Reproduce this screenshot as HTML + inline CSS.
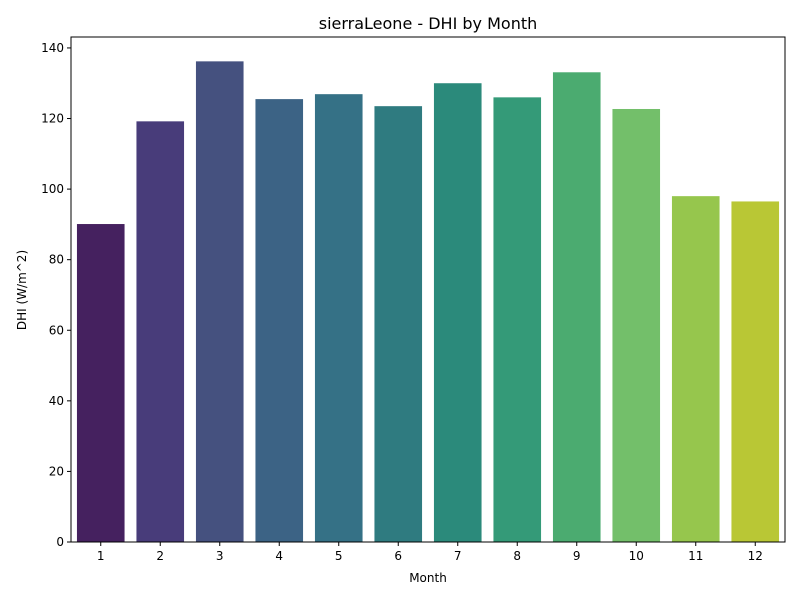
<!DOCTYPE html>
<html><head><meta charset="utf-8"><style>
body{margin:0;background:#fff;font-family:"Liberation Sans","DejaVu Sans",sans-serif;}
svg text{font-family:"DejaVu Sans","Liberation Sans",sans-serif;}
</style></head><body>
<svg id="chart" width="800" height="600">
<rect width="800" height="600" fill="#fff"/>
<text x="428" y="29" font-size="16" text-anchor="middle">sierraLeone - DHI by Month</text>
<g id="bars"></g>
<g id="axes"></g>
<text x="428" y="582" font-size="12" text-anchor="middle">Month</text>
<text transform="translate(26,290) rotate(-90)" font-size="12" text-anchor="middle">DHI (W/m^2)</text>
</svg>
<script>
const categories = ['1','2','3','4','5','6','7','8','9','10','11','12'];
const values = [90.1, 119.2, 136.2, 125.5, 126.9, 123.5, 130.0, 126.0, 133.1, 122.7, 98.0, 96.5];
const colors = ['#45215f','#483c7a','#45517f','#3c6385','#357186','#2f7b80','#2b8a7b','#349a78','#4bab70','#73bf6a','#96c64d','#b9c735'];
const yTicks = [0,20,40,60,80,100,120,140];

const L=71,R=785,T=37,B=542,yMax=143.1;
const ns='http://www.w3.org/2000/svg';
const y=v=>B-(v/yMax)*(B-T);
const step=(R-L)/categories.length;
const x=i=>L+step*i+step/2;
const bars=document.getElementById('bars'), axes=document.getElementById('axes');
function mk(t,a,p){const e=document.createElementNS(ns,t);for(const k in a)e.setAttribute(k,a[k]);p.appendChild(e);return e;}
values.forEach((v,i)=>{
  const r=mk('rect',{x:x(i)-step*0.4,y:y(v),width:step*0.8,height:B-y(v),fill:colors[i]},bars);
  
  
});
const frame=mk('rect',{x:L,y:T,width:R-L,height:B-T,fill:'none',stroke:'#000','stroke-width':1},axes);


categories.forEach((c,i)=>{
  mk('line',{x1:x(i),x2:x(i),y1:B,y2:B+4,stroke:'#000'},axes);
  const t=mk('text',{x:x(i),y:B+18,'font-size':12,'text-anchor':'middle'},axes);
  t.textContent=c;
  
  
});
yTicks.forEach(v=>{
  mk('line',{x1:L-4,x2:L,y1:y(v),y2:y(v),stroke:'#000'},axes);
  const t=mk('text',{x:L-7,y:y(v)+4,'font-size':12,'text-anchor':'end'},axes);
  t.textContent=v;
  
  
});
</script>
</body></html>
